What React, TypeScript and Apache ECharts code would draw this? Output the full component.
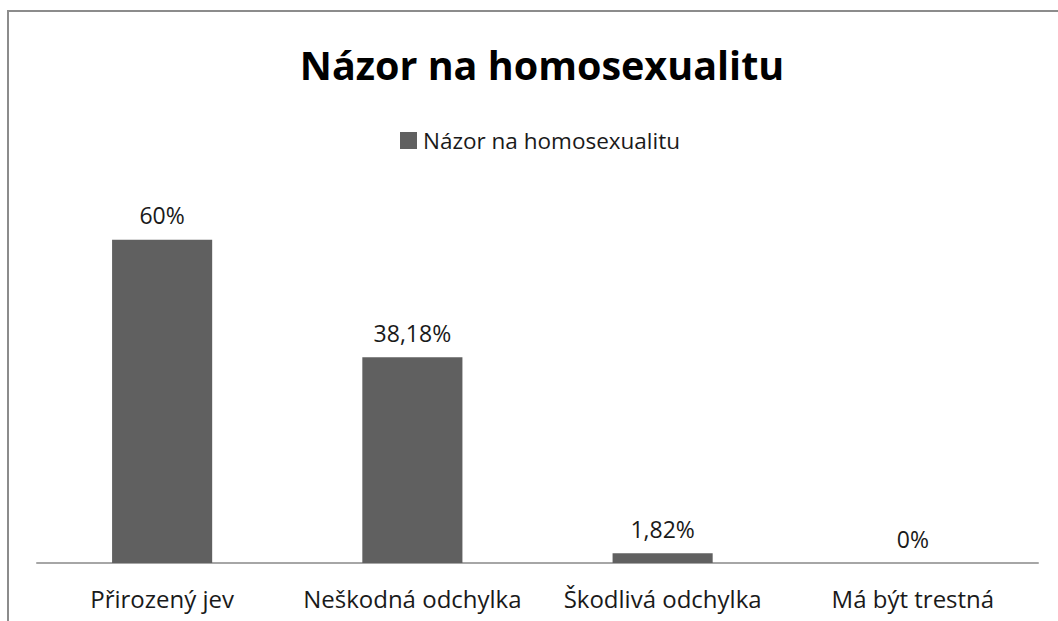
import React, { useEffect, useRef } from "react";
import * as echarts from "echarts";

const categories = ["Přirozený jev", "Neškodná odchylka", "Škodlivá odchylka", "Má být trestná"];
const values = [60, 38.18, 1.82, 0];
const seriesName = "Názor na homosexualitu";
const titleText = "Názor na homosexualitu";

export default function App() {
  const ref = useRef<HTMLDivElement>(null);
  useEffect(() => {
    if (!ref.current) return;
    const chart = echarts.init(ref.current, null, { renderer: "svg" });
    const font = "'Open Sans', 'Noto Sans', sans-serif";
    chart.setOption({
      animation: false,
      backgroundColor: "#ffffff",
      title: {
        text: titleText,
        left: 537,
        textAlign: "center",
        top: 40,
        textStyle: { fontFamily: font, fontWeight: "bold", fontSize: 39.5, color: "#000" },
      },
      legend: {
        data: [seriesName],
        left: 395,
        top: 124,
        icon: "rect",
        itemWidth: 17,
        itemHeight: 17,
        itemGap: 4,
        textStyle: { fontFamily: font, fontSize: 22.5, color: "#1a1a1a", padding: [0, 0, 0, 1] },
      },
      graphic: [
        {
          type: "rect",
          shape: { x: 8, y: 11, width: 1200, height: 800 },
          style: { fill: "none", stroke: "#8c8c8c", lineWidth: 2 },
          silent: true,
        },
      ],
      grid: { left: 37, right: 20, top: 186, bottom: 58, containLabel: false },
      xAxis: {
        type: "category",
        data: categories,
        axisLine: { show: true, lineStyle: { color: "#a6a6a6", width: 2 } },
        axisTick: { show: false },
        axisLabel: { interval: 0, fontFamily: font, fontSize: 24, color: "#1a1a1a", margin: 23 },
      },
      yAxis: {
        type: "value",
        min: 0,
        max: 70,
        show: false,
        splitLine: { show: false },
      },
      series: [
        {
          name: seriesName,
          type: "bar",
          data: values,
          barWidth: "40%",
          itemStyle: { color: "#606060" },
          label: {
            show: true,
            position: "top",
            distance: 13,
            fontFamily: font,
            fontSize: 23,
            color: "#1a1a1a",
            formatter: (p: any) => String(p.value).replace(".", ",") + "%",
          },
        },
      ],
    });
    return () => chart.dispose();
  }, []);
  return (
    <div
      ref={ref}
      style={{ position: "fixed", left: 0, top: 0, width: 1058, height: 621 }}
    />
  );
}
